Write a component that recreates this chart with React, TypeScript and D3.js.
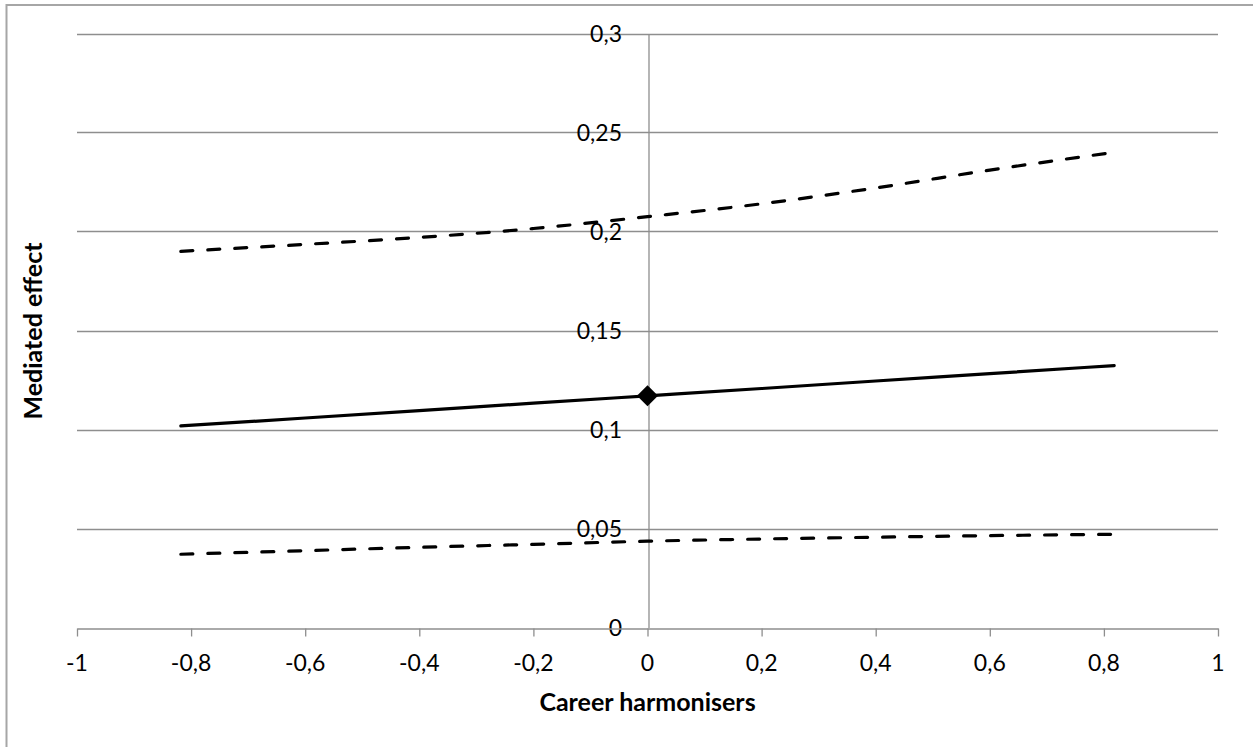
import React, { useEffect, useRef } from 'react';
import * as d3 from 'd3';

// moderator values (x) and the mediated effect with its CI bounds
const xValues = [-0.818, -0.6, -0.4, -0.2, 0, 0.2, 0.4, 0.6, 0.818];
const effect = [0.1018, 0.1058, 0.1095, 0.1133, 0.117, 0.1207, 0.1245, 0.1282, 0.1323];
const upperCI = [0.190, 0.1935, 0.197, 0.2015, 0.2075, 0.214, 0.222, 0.231, 0.240];
const lowerCI = [0.037, 0.0388, 0.0405, 0.042, 0.0436, 0.0447, 0.0456, 0.0464, 0.0471];
const markerPoint = { x: 0, y: 0.117 };

const xTicks = [-1, -0.8, -0.6, -0.4, -0.2, 0, 0.2, 0.4, 0.6, 0.8, 1];
const yTicks = [0, 0.05, 0.1, 0.15, 0.2, 0.25, 0.3];

const W = 1253;
const H = 747;
const FONT = 'Lato, "Open Sans", sans-serif';
const GRID = '#8e8e8e';

const fmt = (v: number) => String(+v.toFixed(2)).replace('.', ',');

export default function App() {
  const ref = useRef<SVGSVGElement>(null);

  useEffect(() => {
    const svg = d3.select(ref.current);
    svg.selectAll('*').remove();

    const x = d3.scaleLinear().domain([-1, 1]).range([77, 1218]);
    const y = d3.scaleLinear().domain([0, 0.3]).range([627.5, 33.5]);

    // outer chart frame
    svg.append('rect')
      .attr('x', 6.5).attr('y', 5)
      .attr('width', 1260).attr('height', 760)
      .attr('fill', 'white')
      .attr('stroke', '#a6a6a6')
      .attr('stroke-width', 2);

    // horizontal gridlines
    svg.append('g')
      .selectAll('line')
      .data(yTicks.filter((d) => d > 0))
      .enter()
      .append('line')
      .attr('x1', x(-1)).attr('x2', x(1))
      .attr('y1', (d) => Math.round(y(d)) + 0.5)
      .attr('y2', (d) => Math.round(y(d)) + 0.5)
      .attr('stroke', GRID)
      .attr('stroke-width', 1.3);

    // y axis at x = 0
    const yAxis = d3.axisLeft(y).tickValues(yTicks).tickSize(0).tickPadding(0).tickFormat(() => '');
    const yAxisG = svg.append('g')
      .attr('transform', `translate(${Math.round(x(0)) + 0.5},0)`)
      .call(yAxis);
    yAxisG.select('.domain').attr('stroke', GRID).attr('stroke-width', 1.3);

    // y tick labels
    svg.append('g')
      .selectAll('text')
      .data(yTicks)
      .enter()
      .append('text')
      .attr('x', 622)
      .attr('y', (d) => y(d))
      .attr('dy', '0.36em')
      .attr('text-anchor', 'end')
      .style('font-family', FONT)
      .style('font-size', '23px')
      .style('fill', 'black')
      .text((d) => fmt(d));

    // x axis at y = 0
    const xAxis = d3.axisBottom(x).tickValues(xTicks).tickSize(8).tickSizeOuter(0).tickFormat(() => '');
    const xAxisG = svg.append('g')
      .attr('transform', `translate(0,${Math.round(y(0)) + 0.5})`)
      .call(xAxis);
    xAxisG.select('.domain').attr('stroke', GRID).attr('stroke-width', 1.3);
    xAxisG.selectAll('.tick line').attr('stroke', GRID).attr('stroke-width', 1.3);

    svg.append('g')
      .selectAll('text')
      .data(xTicks)
      .enter()
      .append('text')
      .attr('x', (d) => x(d))
      .attr('y', 671)
      .attr('text-anchor', 'middle')
      .style('font-family', FONT)
      .style('font-size', '23px')
      .style('fill', 'black')
      .text((d) => fmt(d));

    // series lines
    const line = d3.line<number>()
      .x((d, i) => x(xValues[i]))
      .y((d) => y(d))
      .curve(d3.curveMonotoneX);

    svg.append('path')
      .datum(upperCI)
      .attr('d', line)
      .attr('fill', 'none')
      .attr('stroke', 'black')
      .attr('stroke-width', 3.2)
      .attr('stroke-linecap', 'round')
      .attr('stroke-dasharray', '12 15');

    svg.append('path')
      .datum(lowerCI)
      .attr('d', line)
      .attr('fill', 'none')
      .attr('stroke', 'black')
      .attr('stroke-width', 3.2)
      .attr('stroke-linecap', 'round')
      .attr('stroke-dasharray', '12 15');

    svg.append('path')
      .datum(effect)
      .attr('d', line)
      .attr('fill', 'none')
      .attr('stroke', 'black')
      .attr('stroke-width', 3.2)
      .attr('stroke-linecap', 'round');

    // diamond marker
    svg.append('path')
      .attr('d', d3.symbol().type(d3.symbolDiamond2).size(280))
      .attr('transform', `translate(${x(markerPoint.x)},${y(markerPoint.y)})`)
      .attr('fill', 'black');

    // axis titles
    svg.append('text')
      .attr('x', x(0))
      .attr('y', 711)
      .attr('text-anchor', 'middle')
      .style('font-family', FONT)
      .style('font-size', '25px')
      .style('font-weight', 700)
      .text('Career harmonisers');

    svg.append('text')
      .attr('transform', 'translate(42,331) rotate(-90)')
      .attr('text-anchor', 'middle')
      .style('font-family', FONT)
      .style('font-size', '25px')
      .style('font-weight', 700)
      .text('Mediated effect');
  }, []);

  return (
    <div style={{ position: 'absolute', left: 0, top: 0, width: W, height: H, background: 'white' }}>
      <svg ref={ref} width={W} height={H} style={{ display: 'block' }} />
    </div>
  );
}
